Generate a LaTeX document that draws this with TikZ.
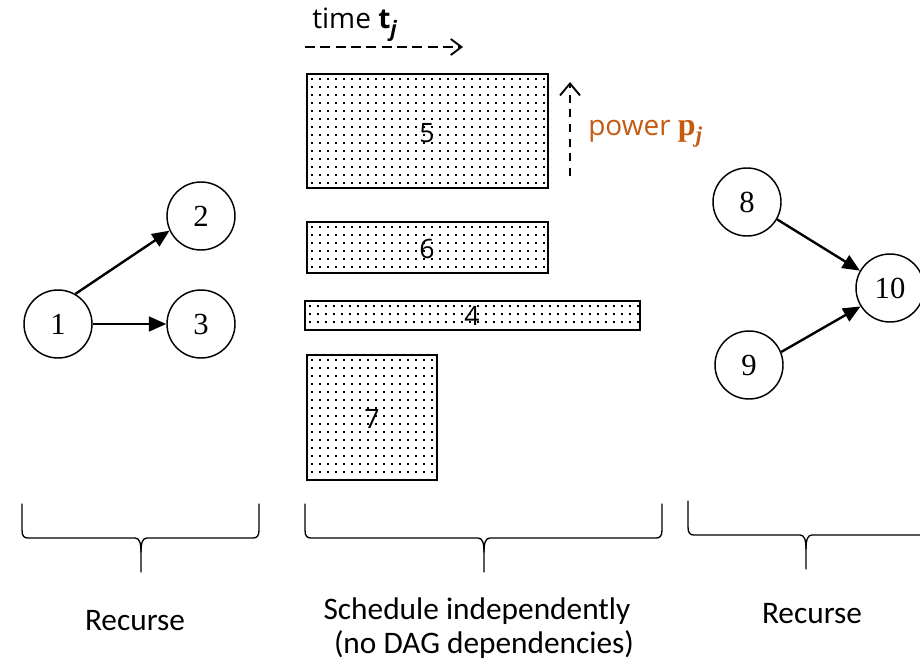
\documentclass[tikz,border=0pt]{standalone}
\usepackage{fontspec}
\setmainfont{Carlito}
\newfontfamily\osans{Open Sans}
\newfontfamily\tnr{Liberation Serif}
\usetikzlibrary{arrows.meta}
\definecolor{powerorange}{RGB}{197,90,17}
% left x, right x, tip x, line y
\newcommand{\curlybrace}[4]{%
  \draw[bracestroke] (#1,#4-34) -- (#1,#4-8) .. controls (#1,#4-2) and (#1+2,#4) .. (#1+6,#4)
     -- (#3-6,#4) .. controls (#3-1.5,#4) and (#3,#4+5) .. (#3,#4+14) -- (#3,#4+34);
  \draw[bracestroke] (#2,#4-34) -- (#2,#4-8) .. controls (#2,#4-2) and (#2-2,#4) .. (#2-6,#4)
     -- (#3+6,#4) .. controls (#3+1.5,#4) and (#3,#4+5) .. (#3,#4+14);
}
% dotted task box: x1, y1, x2, y2
\newcommand{\taskrect}[4]{%
  \begin{scope}
    \clip (#1,#2) rectangle (#3,#4);
    \foreach \dx in {#1,...,#3}{}%
    \pgfmathtruncatemacro\nx{(#3-#1)/8}%
    \pgfmathtruncatemacro\ny{(#4-#2)/8}%
    \foreach \i in {0,...,\nx}{
      \foreach \j in {0,...,\ny}{
        \fill (#1+5+8*\i-1,#2+5+8*\j-1) rectangle ++(2,2);
      }
    }
  \end{scope}
  \draw[taskbox] (#1,#2) rectangle (#3,#4);
}
\begin{document}
\begin{tikzpicture}[x=0.75pt,y=-0.75pt,
  vtx/.style={circle,draw,line width=1.1pt,minimum size=51pt,inner sep=0pt,
    font=\tnr\fontsize{23}{23}\selectfont},
  dep/.style={line width=1.8pt,-{Triangle[length=13pt,width=11pt]}},
  taskbox/.style={draw,line width=1.7pt},
  tasklabel/.style={inner sep=0pt,font=\osans\fontsize{20}{20}\selectfont},
  timearrow/.style={line width=1.4pt,dash pattern=on 7.5pt off 4pt,
    -{Straight Barb[length=8pt,width=12pt,line width=1.4pt]}},
  powerarrow/.style={line width=1.4pt,dash pattern=on 6pt off 5pt,
    -{Straight Barb[length=9pt,width=15pt,line width=1.4pt]}},
  bracestroke/.style={line width=1pt,line cap=round},
  caption/.style={inner sep=0pt,font=\fontsize{23.5}{27}\selectfont}
]
\clip (0,0) rectangle (920,667);

% left DAG
\node[vtx] (n1) at (58,324) {1};
\node[vtx] (n2) at (201,216) {2};
\node[vtx] (n3) at (201,324) {3};
\draw[dep] (n1.60) -- (n2.205);
\draw[dep] (n1) -- (n3);

% right DAG
\node[vtx] (n8) at (747,202) {8};
\node[vtx] (n9) at (749,365) {9};
\node[vtx] (n10) at (890,288) {10};
\draw[dep] (n8.330) -- (n10.150);
\draw[dep] (n9.22) -- (n10.212);

% tasks
\taskrect{307}{74}{548}{188}
\node[tasklabel] (t5) at (427,133) {5};
\taskrect{307}{222}{548}{273}
\node[tasklabel] (t6) at (427,249) {6};
\taskrect{305}{301}{640}{330}
\node[tasklabel] (t4) at (472,316) {4};
\taskrect{307}{355}{437}{480}
\node[tasklabel] (t7) at (372,419) {7};

% time axis
\coordinate (ts) at (305,47);
\coordinate (te) at (463,47);
\draw[timearrow] (ts) -- (te);
\node[anchor=base west,inner sep=0pt,font=\osans\fontsize{21}{21}\selectfont] (tl) at (312,29)
  {time {\bfseries t}\raisebox{-0.28em}{\fontsize{16}{16}\selectfont\bfseries\itshape j}};

% power axis
\coordinate (ps) at (570,176);
\coordinate (pe) at (570,82);
\draw[powerarrow] (ps) -- (pe);
\node[anchor=base west,inner sep=0pt,text=powerorange,font=\osans\fontsize{21}{21}\selectfont] (pl) at (588,135)
  {power {\tnr\fontsize{24}{24}\selectfont\bfseries p}\raisebox{-0.28em}{\tnr\fontsize{17}{17}\selectfont\bfseries\itshape j}};

% braces
\curlybrace{22}{259}{141}{538}
\curlybrace{305}{662}{484}{538}
\curlybrace{688}{930}{806}{535}

% captions
\node[caption,anchor=base] (c1) at (135,630) {Recurse};
\node[caption,anchor=base] (c2) at (477,619) {Schedule independently};
\node[caption,anchor=base] (c3) at (484,653) {(no DAG dependencies)};
\node[caption,anchor=base] (c4) at (812,623) {Recurse};
\end{tikzpicture}
\end{document}
